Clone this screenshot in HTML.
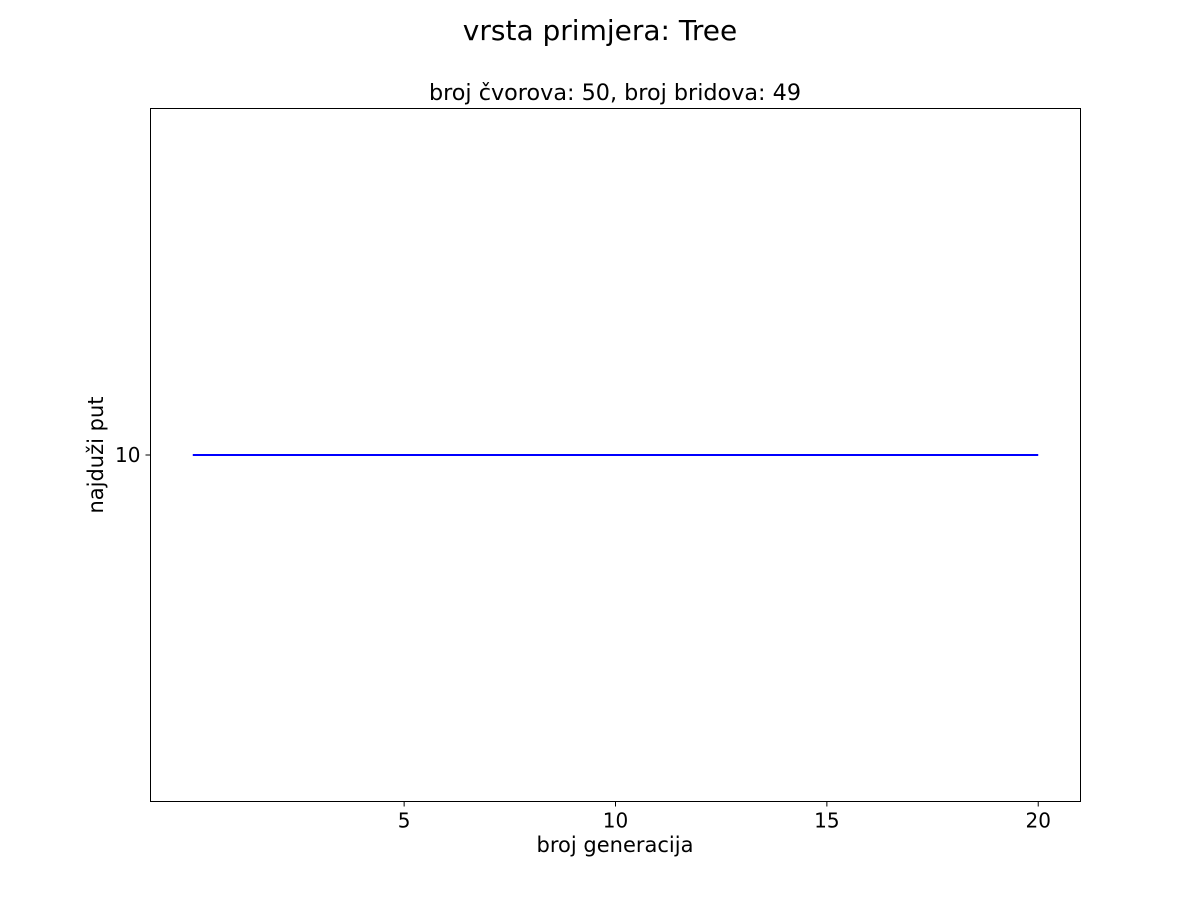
<!DOCTYPE html>
<html><head><meta charset="utf-8"><style>
body{margin:0;background:#fff;font-family:"Liberation Sans","DejaVu Sans",sans-serif;}
</style></head><body>
<svg width="1200" height="900" xmlns="http://www.w3.org/2000/svg" font-family="DejaVu Sans, Liberation Sans, sans-serif">
<text x="600" y="40" font-size="28" text-anchor="middle">vrsta primjera: Tree</text>
<text x="615" y="100" font-size="22.3" text-anchor="middle">broj čvorova: 50, broj bridova: 49</text>
<g id="plot"></g>
<rect x="150.5" y="108.5" width="930" height="693" fill="none" stroke="#000" stroke-width="1"/>
<text x="615" y="852" font-size="21" text-anchor="middle">broj generacija</text>
<text transform="translate(103,455) rotate(-90)" font-size="21" text-anchor="middle">najduži put</text>
</svg>
<script>
const xValues=[0,1,2,3,4,5,6,7,8,9,10,11,12,13,14,15,16,17,18,19,20];
const yValues=[10,10,10,10,10,10,10,10,10,10,10,10,10,10,10,10,10,10,10,10,10];
const xTicks=[5,10,15,20];
const yTicks=[10];
const L=150.5,R=1080.5,T=108.5,B=801.5;
const xMin=-1,xMax=21,yMin=9.5,yMax=10.5;
const sx=v=>L+(v-xMin)/(xMax-xMin)*(R-L);
const sy=v=>B-(v-yMin)/(yMax-yMin)*(B-T);
const NS="http://www.w3.org/2000/svg";
const g=document.getElementById('plot');
function mk(t,a){const e=document.createElementNS(NS,t);for(const k in a)e.setAttribute(k,a[k]);g.appendChild(e);return e;}
xTicks.forEach(v=>{
 const l=mk('line',{x1:sx(v),x2:sx(v),y1:B,y2:B+5,stroke:'#000'});
 
 
 const t=mk('text',{x:sx(v),y:B+26,'font-size':20,'text-anchor':'middle'});
 t.textContent=v;
 
 
});
yTicks.forEach(v=>{
 const l=mk('line',{x1:L-5,x2:L,y1:sy(v),y2:sy(v),stroke:'#000'});
 
 
 const t=mk('text',{x:L-10,y:sy(v)+7,'font-size':20,'text-anchor':'end'});
 t.textContent=v;
 
 
});
const pts=xValues.map((x,i)=>sx(x)+','+sy(yValues[i])).join(' ');
const line=mk('polyline',{points:pts,fill:'none',stroke:'#0000ff','stroke-width':2});


</script>
</body></html>
